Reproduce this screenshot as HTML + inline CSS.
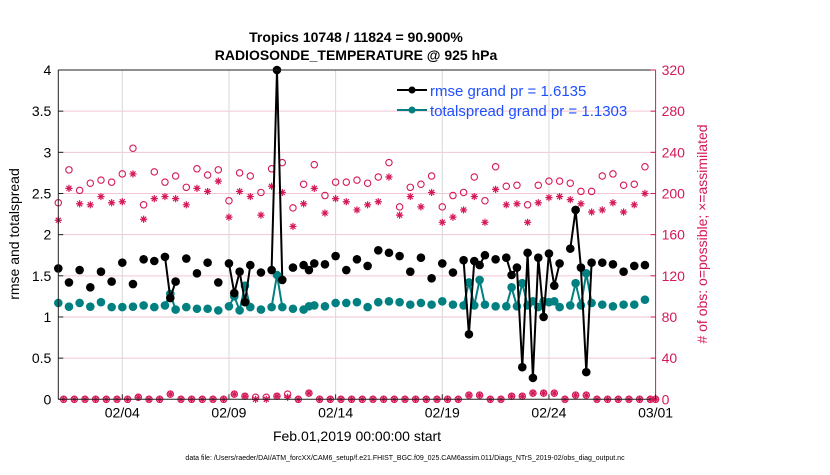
<!DOCTYPE html>
<html><head><meta charset="utf-8"><style>
body{margin:0;background:#fff;width:830px;height:470px;overflow:hidden}
svg text{font-family:"Liberation Sans",sans-serif}
</style></head><body>
<svg id="chart" width="830" height="470">
<text x="356" y="42" text-anchor="middle" font-size="14" font-weight="bold">Tropics 10748 / 11824 = 90.900%</text>
<text x="356" y="60" text-anchor="middle" font-size="14" font-weight="bold">RADIOSONDE_TEMPERATURE @ 925 hPa</text>
<g id="grid"></g>
<g id="marks"></g>
<g id="axes"></g>
<text transform="translate(19,234) rotate(-90)" text-anchor="middle" font-size="14">rmse and totalspread</text>
<text transform="translate(707,234) rotate(-90)" text-anchor="middle" font-size="14" fill="#d6185a"># of obs: o=possible; ×=assimilated</text>
<text x="357" y="441" text-anchor="middle" font-size="14">Feb.01,2019 00:00:00 start</text>
<text x="405" y="460" text-anchor="middle" font-size="7">data file: /Users/raeder/DAI/ATM_forcXX/CAM6_setup/f.e21.FHIST_BGC.f09_025.CAM6assim.011/Diags_NTrS_2019-02/obs_diag_output.nc</text>
<g>
<line x1="397" y1="90" x2="427" y2="90" stroke="#000" stroke-width="2"/><circle cx="412" cy="90" r="3.5" fill="#000"/>
<text x="430" y="96" font-size="15" fill="#1f4fff">rmse grand pr = 1.6135</text>
<line x1="397" y1="110" x2="427" y2="110" stroke="#008080" stroke-width="2"/><circle cx="412" cy="110" r="3.5" fill="#008080"/>
<text x="430" y="116" font-size="15" fill="#1f4fff">totalspread grand pr = 1.1303</text>
</g>
</svg>
<script>
const N=null;
// 00Z/12Z values (k even, i=0..56)
const rmseMain=[1.59,1.42,1.57,1.36,1.55,1.43,1.66,1.40,1.70,1.68,1.73,1.43,1.71,1.53,1.66,1.42,1.65,1.55,1.63,1.54,1.57,1.45,1.60,1.63,1.65,1.64,1.74,1.57,1.70,1.62,1.81,1.78,1.74,1.55,1.72,1.47,1.65,1.54,1.69,1.68,1.75,1.70,1.72,1.60,1.78,1.72,1.77,1.65,1.83,1.60,1.66,1.66,1.64,1.55,1.62,1.63,N];
const spreadMain=[1.17,1.125,1.17,1.125,1.18,1.12,1.12,1.125,1.14,1.12,1.14,1.09,1.12,1.10,1.10,1.08,1.13,1.08,1.12,1.09,1.12,1.12,1.10,1.09,1.14,1.13,1.17,1.17,1.18,1.12,1.18,1.19,1.18,1.15,1.17,1.15,1.19,1.15,1.14,1.14,1.15,1.13,1.13,1.13,1.14,1.12,1.18,1.12,1.14,1.14,1.17,1.15,1.13,1.15,1.15,1.21,N];
const possMain=[191,223,203,210,213,211,219,244,189,221,211,217,206,224,218,223,193,220,217,201,224,230,186,209,228,198,211,211,213,210,216,230,187,206,209,217,187,198,201,216,193,226,207,208,189,208,212,212,210,202,202,217,219,208,209,226,0];
const assimMain=[174,205,190,189,197,191,192,219,175,195,197,195,189,205,202,212,177,202,197,179,207,201,168,190,205,181,195,192,184,189,192,216,179,197,187,201,172,177,184,197,172,204,189,190,172,191,196,197,194,190,182,184,191,182,189,200,0];
// 06Z/18Z values (k odd, j=0..55)
const rmseOff=[N,N,N,N,N,N,N,N,N,N,1.23,N,N,N,N,N,1.29,1.18,N,N,4.0,N,N,1.57,N,N,N,N,N,N,N,N,N,N,N,N,N,N,0.79,1.63,N,N,1.51,0.39,0.26,1.00,1.38,N,2.30,0.33,N,N,N,N,N,N];
const spreadOff=[N,N,N,N,N,N,N,N,N,N,1.28,N,N,N,N,N,1.25,1.38,N,N,1.51,N,N,1.13,N,N,N,N,N,N,N,N,N,N,N,N,N,N,1.42,1.45,N,N,1.36,1.41,1.19,1.19,1.19,N,1.41,1.53,N,N,N,N,N,N];
const possOff=[0,0,0,0,0,0,0,2,0,0,5,0,0,0,0,0,5,3,2,2,3,5,0,6,0,0,0,0,0,0,0,0,0,0,0,0,0,0,4,4,0,0,3,3,6,6,6,0,4,4,0,0,0,0,0,0];
const assimOff=[0,0,0,0,0,0,0,2,0,0,5,0,0,0,0,0,5,3,0,0,3,2,0,6,0,0,0,0,0,0,0,0,0,0,0,0,0,0,4,4,0,0,3,3,6,6,6,0,4,4,0,0,0,0,0,0];
const leftTicks=[0,0.5,1,1.5,2,2.5,3,3.5,4];
const leftTickLabels=["0","0.5","1","1.5","2","2.5","3","3.5","4"];
const rightTicks=[0,40,80,120,160,200,240,280,320];
const dateTicksDays=[3,8,13,18,23,28];
const dateTickLabels=["02/04","02/09","02/14","02/19","02/24","03/01"];

const X0=58.3,X1=655.6,Y0=399.3,Y1=70,DAYS=28;
const xs=d=>X0+d/DAYS*(X1-X0);
const yl=v=>Y0-v/4*(Y0-Y1);
const yr=c=>Y0-c/320*(Y0-Y1);
const NS="http://www.w3.org/2000/svg";
function mk(p,t,a){const e=document.createElementNS(NS,t);for(const k in a)e.setAttribute(k,a[k]);p.appendChild(e);return e;}
function interleave(a,b){const r=[];for(let k=0;k<=112;k++)r.push(k%2===0?a[k/2]:b[(k-1)/2]);return r;}
const rmse=interleave(rmseMain,rmseOff),spread=interleave(spreadMain,spreadOff),poss=interleave(possMain,possOff),assim=interleave(assimMain,assimOff);

const grid=document.getElementById('grid'),marks=document.getElementById('marks'),axes=document.getElementById('axes');
leftTicks.forEach((v,i)=>{if(i>0&&i<leftTicks.length-1){const g=mk(grid,'line',{x1:X0,x2:X1,y1:yl(v),y2:yl(v),stroke:'#f2c6d4','stroke-width':1});

}});
dateTicksDays.forEach(d=>{if(d<DAYS){const g=mk(grid,'line',{x1:xs(d),x2:xs(d),y1:Y0,y2:Y1,stroke:'#d8d8d8','stroke-width':1});

}});

function series(vals,color,name){
  let d='';let prev=false;
  vals.forEach((v,k)=>{if(v==null){prev=false;return;}d+=(prev?'L':'M')+xs(k/4).toFixed(1)+' '+yl(v).toFixed(1);prev=true;});
  const p=mk(marks,'path',{d:d,fill:'none',stroke:color,'stroke-width':2});
  
  
  vals.forEach((v,k)=>{if(v==null)return;const c=mk(marks,'circle',{cx:xs(k/4),cy:yl(v),r:4.3,fill:color});
  
  });
}
const CR='#d6185a';
poss.forEach((v,k)=>{const c=mk(marks,'circle',{cx:xs(k/4),cy:yr(v),r:3.2,fill:'none',stroke:CR,'stroke-width':1.1});

});
assim.forEach((v,k)=>{const x=xs(k/4),y=yr(v),s=3.6;const g=mk(marks,'path',{d:`M${x-s} ${y}H${x+s}M${x} ${y-s}V${y+s}M${x-s*0.7} ${y-s*0.7}L${x+s*0.7} ${y+s*0.7}M${x-s*0.7} ${y+s*0.7}L${x+s*0.7} ${y-s*0.7}`,stroke:CR,'stroke-width':1.2});

});
series(spread,'#008080','totalspread');
series(rmse,'#000000','rmse');

mk(axes,'line',{x1:X0,x2:X0,y1:Y0,y2:Y1,stroke:'#222','stroke-width':1});
mk(axes,'line',{x1:X0,x2:X1,y1:Y0,y2:Y0,stroke:'#222','stroke-width':1});
mk(axes,'line',{x1:X0,x2:X1,y1:Y1,y2:Y1,stroke:'#222','stroke-width':1});
mk(axes,'line',{x1:X1,x2:X1,y1:Y0,y2:Y1,stroke:CR,'stroke-width':1});
leftTicks.forEach((v,i)=>{mk(axes,'line',{x1:X0,x2:X0+5,y1:yl(v),y2:yl(v),stroke:'#222'});
const t=mk(axes,'text',{x:X0-7,y:yl(v)+5,'text-anchor':'end','font-size':14});t.textContent=leftTickLabels[i];

});
rightTicks.forEach(v=>{mk(axes,'line',{x1:X1-5,x2:X1,y1:yr(v),y2:yr(v),stroke:CR});
const t=mk(axes,'text',{x:X1+6,y:yr(v)+5,'font-size':14,fill:CR});t.textContent=String(v);

});
dateTicksDays.forEach((d,i)=>{mk(axes,'line',{x1:xs(d),x2:xs(d),y1:Y0,y2:Y0-5,stroke:'#222'});
const t=mk(axes,'text',{x:xs(d),y:Y0+18,'text-anchor':'middle','font-size':14});t.textContent=dateTickLabels[i];

});
</script>
</body></html>
